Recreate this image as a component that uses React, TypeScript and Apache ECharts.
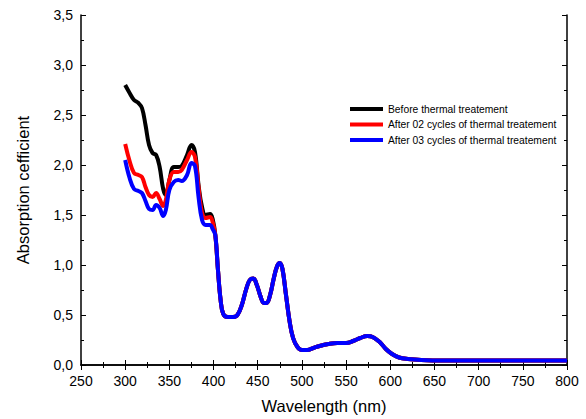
import React, { useEffect, useRef } from "react";
import * as echarts from "echarts";

const seriesNames = [
  "Before thermal treatement",
  "After 02 cycles of thermal treatement",
  "After 03 cycles of thermal treatement",
];

// Wavelengths (nm) of the region where the three curves differ
const headWavelengths = [300, 305, 310, 315, 319, 323, 327, 331, 335, 339, 343, 346, 350, 355, 360, 364, 370, 375, 379, 383, 387, 391, 396, 399];
const beforeHead = [2.80, 2.72, 2.65, 2.62, 2.57, 2.40, 2.20, 2.12, 2.10, 1.98, 1.76, 1.70, 1.85, 1.98, 1.98, 1.99, 2.10, 2.20, 2.13, 1.80, 1.58, 1.50, 1.51, 1.46];
const cycles02Head = [2.21, 2.04, 1.92, 1.90, 1.88, 1.78, 1.70, 1.68, 1.72, 1.66, 1.59, 1.65, 1.85, 1.93, 1.93, 1.95, 2.05, 2.13, 2.08, 1.78, 1.52, 1.47, 1.48, 1.43];
const cycles03Head = [2.05, 1.87, 1.76, 1.74, 1.72, 1.64, 1.56, 1.55, 1.60, 1.57, 1.49, 1.55, 1.75, 1.83, 1.85, 1.84, 1.90, 2.02, 1.99, 1.68, 1.45, 1.40, 1.40, 1.36];

// Region where the three curves coincide
const tailWavelengths = [402, 405, 408, 411, 416, 422, 427, 432, 437, 441, 445, 449, 453, 457, 460, 464, 468, 472, 475, 478, 482, 486, 490, 495, 500, 506, 513, 520, 530, 540, 550, 558, 566, 574, 580, 588, 595, 602, 610, 620, 635, 660, 700, 750, 800];
const sharedTail = [1.30, 0.95, 0.65, 0.51, 0.48, 0.48, 0.50, 0.60, 0.76, 0.85, 0.865, 0.80, 0.69, 0.62, 0.62, 0.70, 0.86, 0.99, 1.02, 0.96, 0.70, 0.44, 0.27, 0.18, 0.15, 0.15, 0.17, 0.19, 0.21, 0.22, 0.22, 0.24, 0.27, 0.29, 0.28, 0.23, 0.16, 0.11, 0.075, 0.06, 0.05, 0.045, 0.045, 0.045, 0.045];

const colors = ["#000000", "#ff0000", "#0000ff"];
const heads = [beforeHead, cycles02Head, cycles03Head];

function buildData(head: number[]): [number, number][] {
  const pts: [number, number][] = headWavelengths.map((w, i) => [w, head[i]]);
  tailWavelengths.forEach((w, i) => pts.push([w, sharedTail[i]]));
  return pts;
}

const FONT = "Liberation Sans, Arial, sans-serif";

export default function App() {
  const ref = useRef<HTMLDivElement>(null);
  useEffect(() => {
    document.body.style.margin = "0";
    if (!ref.current) return;
    const chart = echarts.init(ref.current, null, { renderer: "svg" });
    const axisLine = { show: true, lineStyle: { color: "#000", width: 1.5 } };
    const tick = { show: true, inside: true, length: 5, lineStyle: { color: "#000", width: 1 } };
    const minor = { show: true, splitNumber: 2, length: 3, lineStyle: { color: "#000", width: 1 } };
    chart.setOption({
      animation: false,
      backgroundColor: "#fff",
      grid: { left: 81, right: 19, top: 15, bottom: 52, containLabel: false },
      legend: {
        orient: "vertical",
        left: 350,
        top: 104,
        padding: 0,
        itemWidth: 33,
        itemHeight: 4,
        itemGap: 5.5,
        icon: "rect",
        textStyle: { fontFamily: FONT, fontSize: 10.3, color: "#000" },
        data: seriesNames,
      },
      xAxis: [
        {
          type: "value",
          min: 250,
          max: 800,
          interval: 50,
          name: "Wavelength (nm)",
          nameLocation: "middle",
          nameGap: 32,
          nameTextStyle: { fontFamily: FONT, fontSize: 16.5, color: "#000" },
          axisLine,
          axisTick: tick,
          minorTick: minor,
          splitLine: { show: false },
          axisLabel: { fontFamily: FONT, fontSize: 14, color: "#000", margin: 9 },
        },
        {
          type: "value",
          position: "top",
          min: 250,
          max: 800,
          interval: 50,
          axisLine,
          axisTick: tick,
          minorTick: minor,
          splitLine: { show: false },
          axisLabel: { show: false },
        },
      ],
      yAxis: [
        {
          type: "value",
          min: 0,
          max: 3.5,
          interval: 0.5,
          name: "Absorption cefficient",
          nameLocation: "middle",
          nameGap: 50,
          nameTextStyle: { fontFamily: FONT, fontSize: 16.5, color: "#000" },
          axisLine,
          axisTick: tick,
          minorTick: minor,
          splitLine: { show: false },
          axisLabel: {
            fontFamily: FONT,
            fontSize: 14,
            color: "#000",
            margin: 8,
            formatter: (v: number) => v.toFixed(1).replace(".", ","),
          },
        },
        {
          type: "value",
          position: "right",
          min: 0,
          max: 3.5,
          interval: 0.5,
          axisLine,
          axisTick: tick,
          minorTick: minor,
          splitLine: { show: false },
          axisLabel: { show: false },
        },
      ],
      series: heads.map((h, i) => ({
        name: seriesNames[i],
        type: "line",
        xAxisIndex: 0,
        yAxisIndex: 0,
        data: buildData(h),
        smooth: 0.4,
        showSymbol: false,
        symbol: "none",
        color: colors[i],
        lineStyle: { color: colors[i], width: 4 },
      })),
    });
    return () => chart.dispose();
  }, []);
  return <div ref={ref} style={{ width: 586, height: 419 }} />;
}
